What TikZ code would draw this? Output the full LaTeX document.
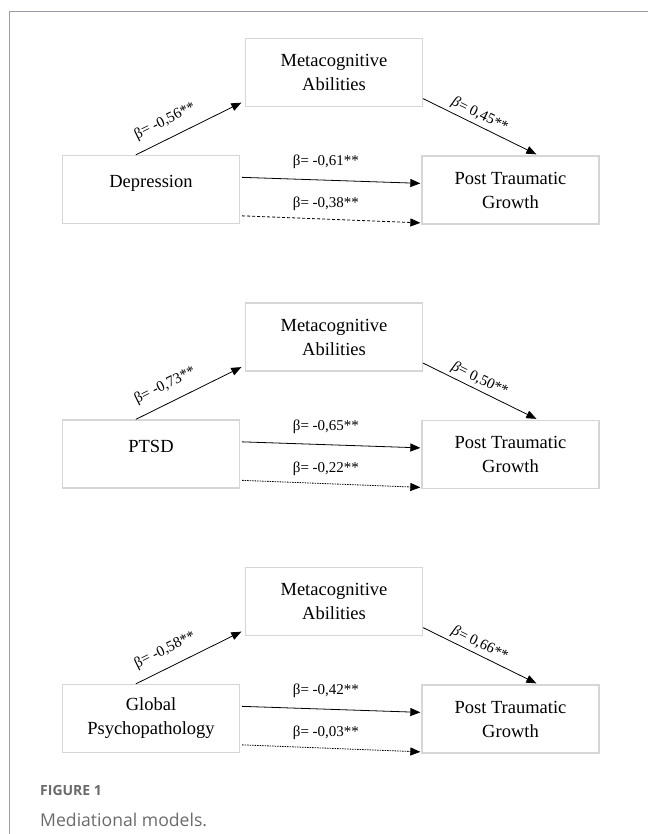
\documentclass[tikz,border=0pt]{standalone}
\usepackage{fontspec}
\setmainfont{Liberation Serif}
\newfontfamily\capfont{Open Sans}
\usetikzlibrary{arrows.meta,calc}
\definecolor{boxgray}{HTML}{D6D6D6}
\definecolor{framegray}{HTML}{9A9DA8}
\definecolor{capgray}{HTML}{6A6A6A}
\tikzset{
  box/.style={draw=boxgray, line width=1.3pt, minimum width=177pt, minimum height=68pt,
    inner sep=0pt, align=center, font=\fontsize{18.5}{24}\selectfont},
  onebox/.style={box, text height=12pt, text depth=15pt},
  arr/.style={-{Triangle[length=10pt,width=8pt]}, line width=0.8pt, black},
  dashA/.style={arr, dash pattern=on 3pt off 2pt},
  dashB/.style={arr, dash pattern=on 1.5pt off 1pt},
  lab/.style={inner sep=0pt, font=\fontsize{15}{18}\selectfont},
}
\newcommand{\mpanel}[9]{%
  % #1 offset, #2 suffix, #3 source style, #4 source text, #5 a, #6 b, #7 solid, #8 dashed, #9 dash style
  \node[box] (meta#2) at (334,{72.5+#1}) {Metacognitive\\Abilities};
  \node[#3] (src#2) at (151,{189.5+#1}) {#4};
  \node[box] (ptg#2) at (510.5,{190+#1}) {Post Traumatic\\Growth};
  \draw[arr] ($(src#2.north west)+(74,0)$) -- node[lab, pos=0.35, sloped, above=10pt] {β= #5}
    ($(meta#2.south west)+(-3.5,-4.5)$);
  \draw[arr] ($(meta#2.south east)+(0,-8.5)$) -- node[lab, pos=0.46, sloped, above=3pt] {\textit{β}= #6}
    ($(ptg#2.north west)+(115,-1)$);
  \draw[arr] ($(src#2.north east)+(2,22.5)$) -- node[lab, pos=0.47, above=11pt] {β= #7}
    ($(ptg#2.north west)+(-1,28)$);
  \draw[#9] ($(src#2.north east)+(2,61)$) -- node[lab, pos=0.47, above=8pt] {β= #8}
    ($(ptg#2.north west)+(-1,67.5)$);
}
\begin{document}
\begin{tikzpicture}[x=1pt,y=-1pt]
\useasboundingbox (0,0) rectangle (648,834);
\coordinate (ftr) at (648,11.7);
\coordinate (ftl) at (9,11.7);
\coordinate (fbl) at (9,834);
\draw[framegray, line width=1pt] (ftr) -- (ftl) -- (fbl);
\mpanel{0}{1}{onebox}{Depression}{-0,56**}{0,45**}{-0,61**}{-0,38**}{dashA}
\mpanel{264.5}{2}{onebox}{PTSD}{-0,73**}{0,50**}{-0,65**}{-0,22**}{dashB}
\mpanel{529}{3}{box}{Global\\Psychopathology}{-0,58**}{0,66**}{-0,42**}{-0,03**}{dashB}
\node[anchor=base west, inner sep=0pt, text=capgray, font=\capfont\bfseries\fontsize{14}{16}\selectfont] (fig) at (40,795) {FIGURE 1};
\node[anchor=base west, inner sep=0pt, text=capgray, font=\capfont\fontsize{17.6}{20}\selectfont] (cap) at (40,826) {Mediational models.};
\end{tikzpicture}
\end{document}
